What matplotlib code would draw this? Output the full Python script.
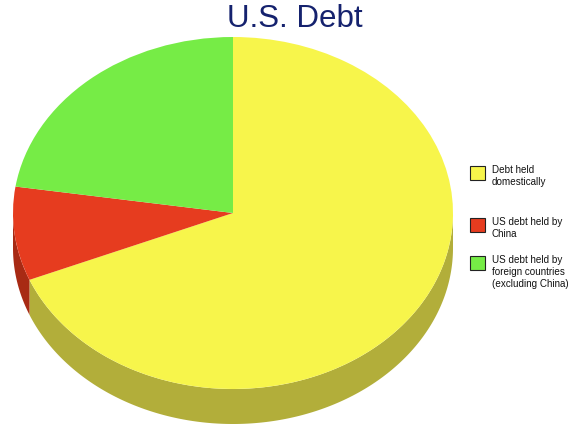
import numpy as np
import matplotlib.pyplot as plt
from matplotlib.patches import Rectangle

plt.rcParams['font.family'] = ['Liberation Sans', 'DejaVu Sans']

labels = ["Debt held\ndomestically", "US debt held by\nChina",
          "US debt held by\nforeign countries\n(excluding China)"]
shares = [68.8, 8.6, 22.6]
colors = ["#F7F54B", "#E63C1F", "#76EC46"]
side_colors = ["#B2AE3A", "#A82A14", "#52A830"]

W, H = 579, 426
cx, cy, rx, ry = 233, 213, 220, 176
depth = 35 / ry  # thickness, in unit-circle units

fig = plt.figure(figsize=(W / 100, H / 100), dpi=100)
ax = fig.add_axes([0, 0, 1, 1])

# top of the pie: unit circle, squashed into an ellipse by the axis limits
wedges, _ = ax.pie(shares, colors=colors, startangle=90, counterclock=False,
                   radius=1, center=(0, 0), wedgeprops=dict(linewidth=0))
for w in wedges:
    w.set_zorder(3)

# side wall, only the front half (sin < 0) shows
start = 90.0
for val, sc in zip(shares, side_colors):
    end = start - 360.0 * val / sum(shares)
    t = np.radians(np.linspace(end, start, 400))
    t = t[np.sin(t) <= 0]
    if len(t) > 1:
        xs = np.concatenate([np.cos(t), np.cos(t[::-1])])
        ys = np.concatenate([np.sin(t), np.sin(t[::-1]) - depth])
        ax.fill(xs, ys, color=sc, zorder=2, lw=0)
    start = end

ax.set_aspect('auto')
ax.set_xlim((0 - cx) / rx, (W - cx) / rx)
ax.set_ylim(-(H - cy) / ry, cy / ry)
ax.axis('off')

fig.text(295 / W, 1 - 27 / H, "U.S. Debt", ha='center', va='baseline',
         fontsize=22.5, color="#15226E")

# legend
box_tops = [166, 218, 256]
for lab, col, top in zip(labels, colors, box_tops):
    fig.patches.append(Rectangle((470 / W, 1 - (top + 14) / H), 15 / W, 14 / H,
                                 transform=fig.transFigure, facecolor=col,
                                 edgecolor="#222222", linewidth=0.8))
    fig.text(492 / W, 1 - (top - 1) / H, lab, ha='left', va='top',
             fontsize=7.1, color="#111111", linespacing=1.25)

fig.savefig("out.png", dpi=100)
